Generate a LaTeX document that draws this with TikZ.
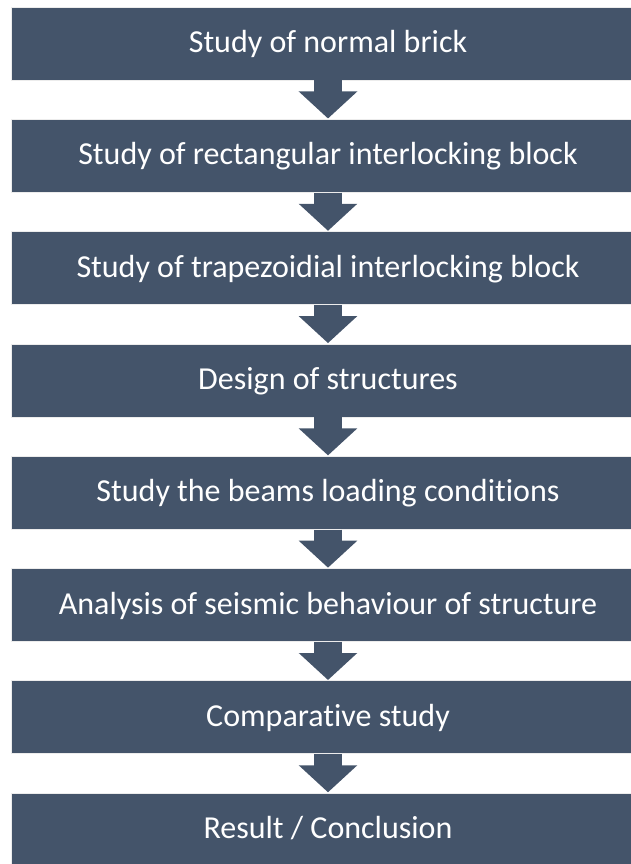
\documentclass[tikz,border=0pt]{standalone}
\usepackage{fontspec}
\setmainfont[RawFeature=-liga]{Carlito}
\usetikzlibrary{arrows.meta}
\definecolor{boxblue}{HTML}{44546A}
\tikzset{
  stage/.style={fill=boxblue, draw=white!85!gray, line width=0.8pt, minimum width=634pt, minimum height=73pt, inner sep=0pt, text height=24pt, text depth=6pt, text=white, font=\fontsize{32}{36}\selectfont, anchor=center},
  flow/.style={draw=boxblue, line width=28pt, -{Triangle[width=57pt,length=27pt]}, shorten >=0.4pt}
}
\begin{document}
\begin{tikzpicture}[x=1pt,y=1pt]
\useasboundingbox (0,0) rectangle (630,-864);
\node[stage] (b1) at (328,-43.5) {Study of normal brick};
\node[stage] (b2) at (328,-155.8) {Study of rectangular interlocking block};
\node[stage] (b3) at (328,-268.1) {Study of trapezoidial interlocking block};
\node[stage] (b4) at (328,-380.4) {Design of structures};
\node[stage] (b5) at (328,-492.7) {Study the beams loading conditions};
\node[stage] (b6) at (328,-605.0) {Analysis of seismic behaviour of structure};
\node[stage] (b7) at (328,-717.3) {Comparative study};
\node[stage] (b8) at (328,-829.6) {Result / Conclusion};
\foreach \a/\b in {b1/b2,b2/b3,b3/b4,b4/b5,b5/b6,b6/b7,b7/b8}
  \draw[flow] (\a.south) -- (\b.north);
\end{tikzpicture}
\end{document}
